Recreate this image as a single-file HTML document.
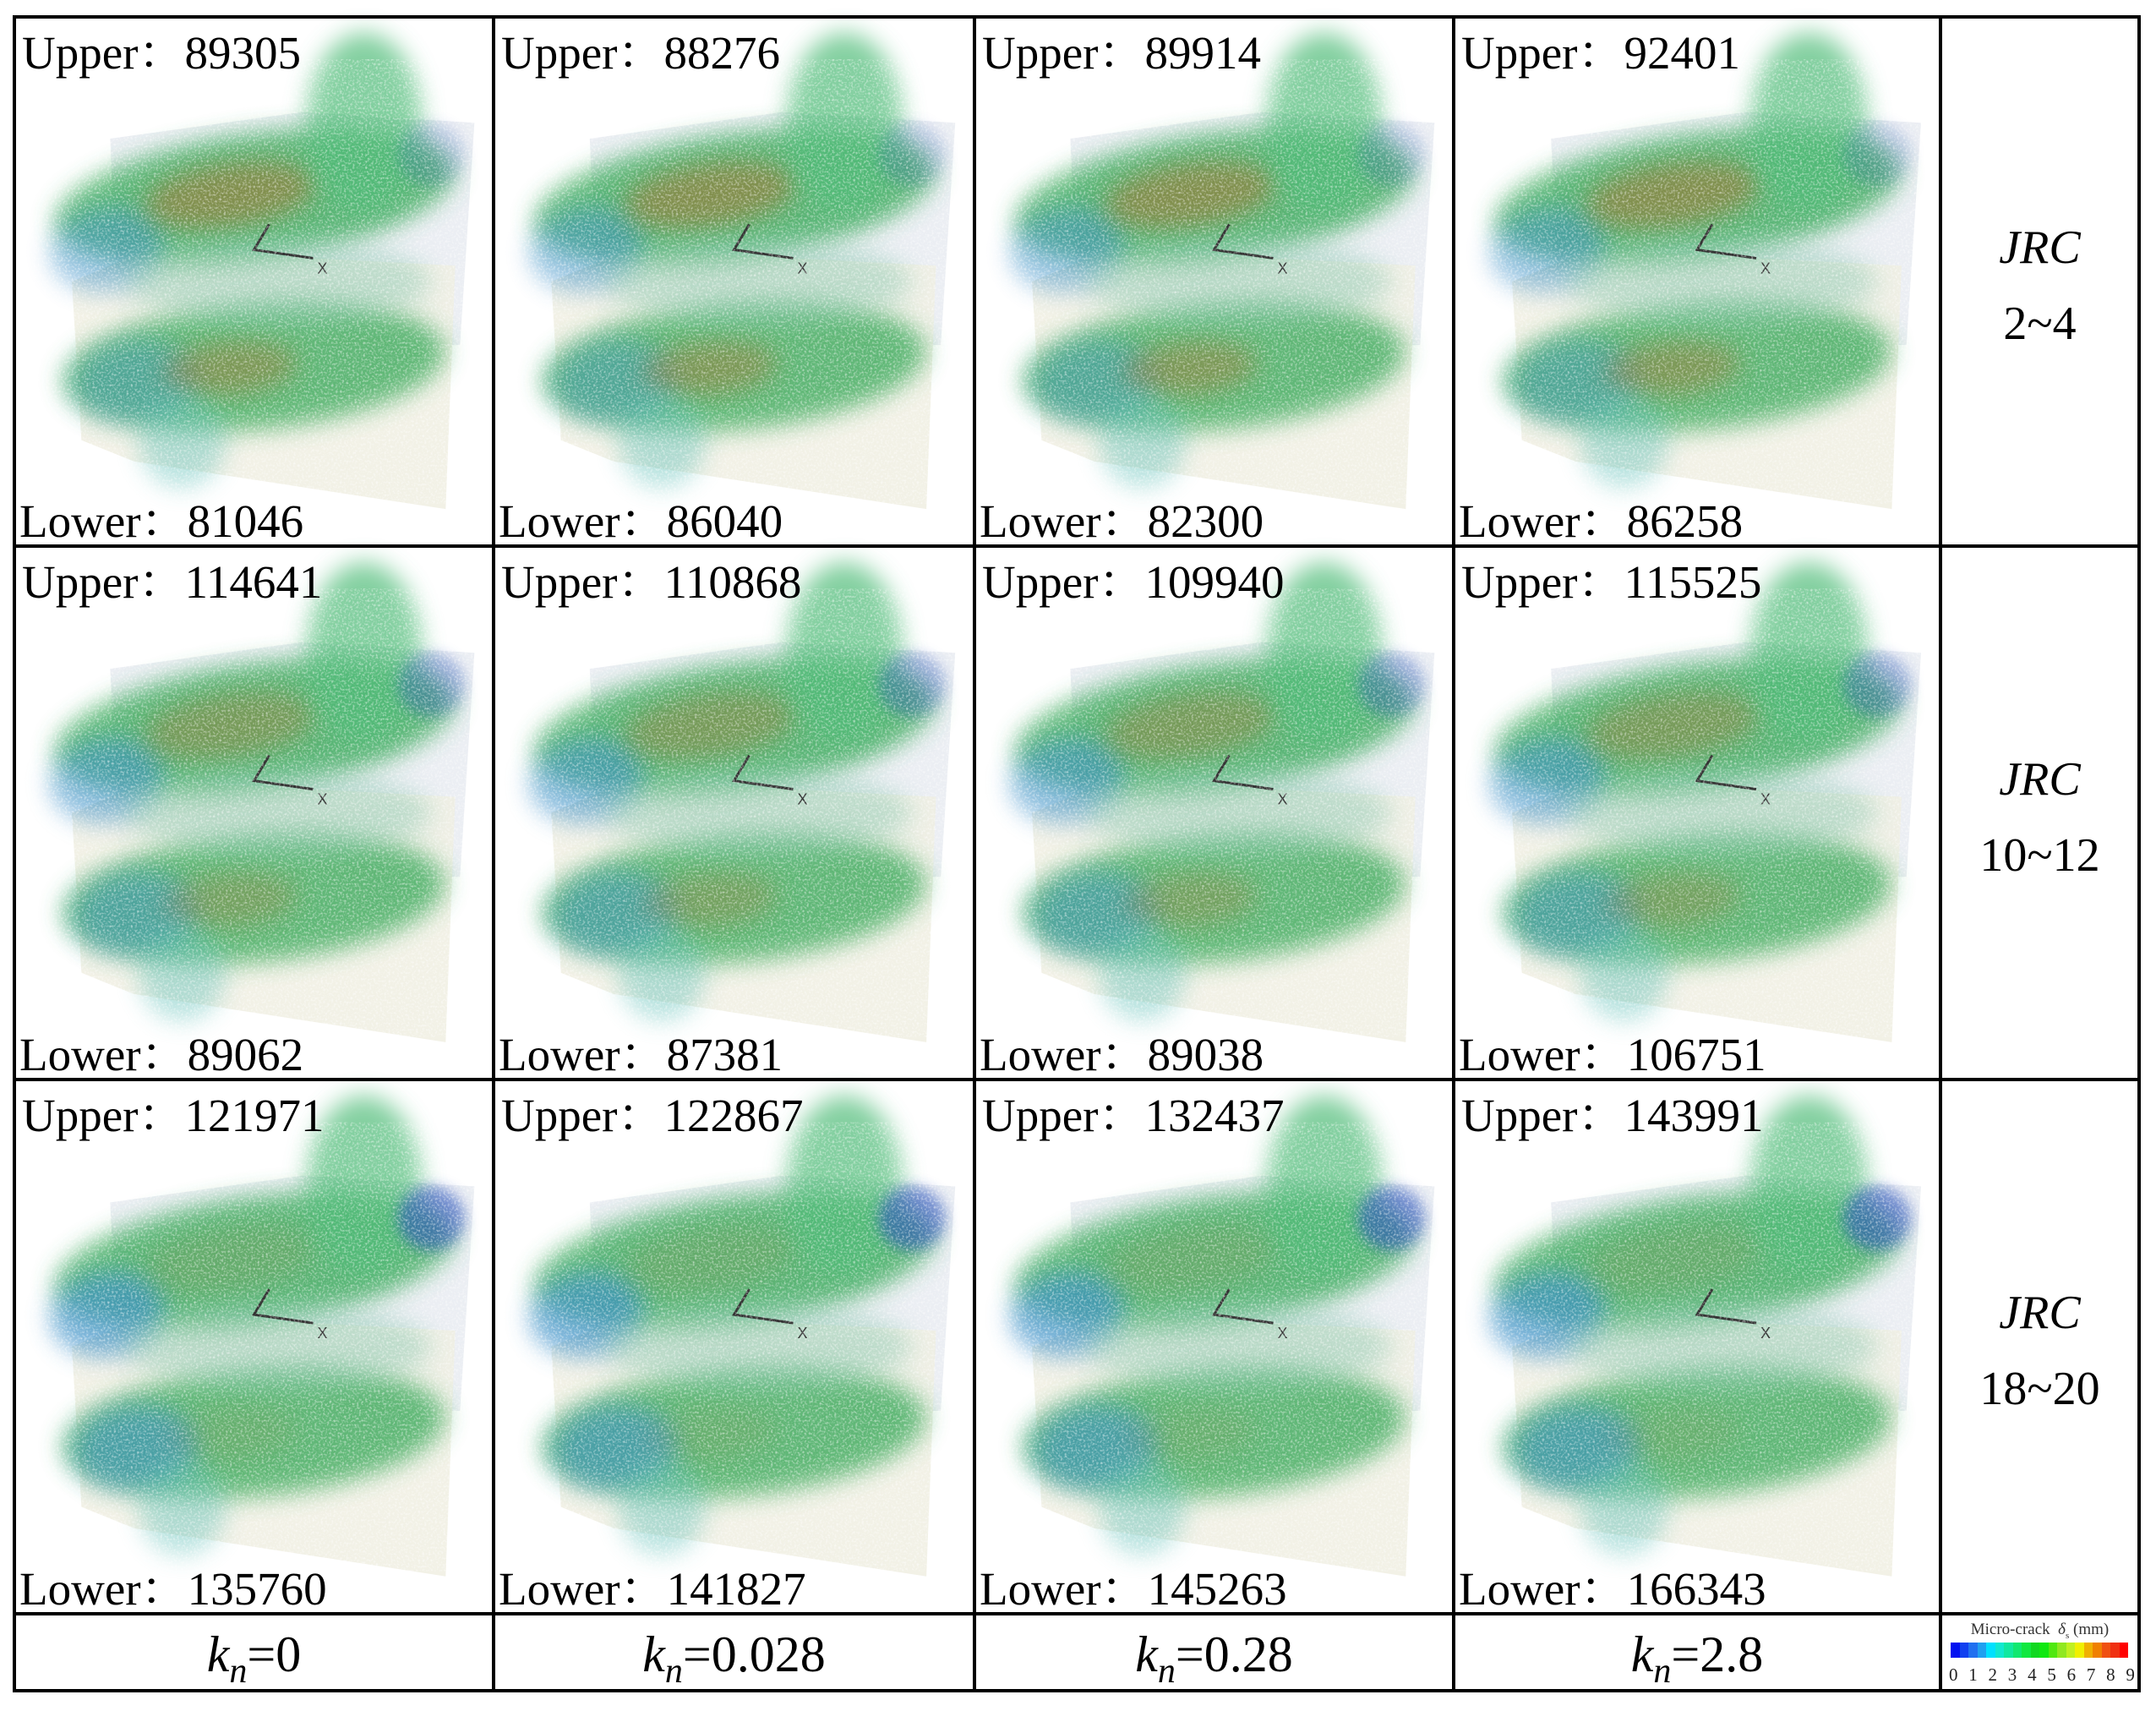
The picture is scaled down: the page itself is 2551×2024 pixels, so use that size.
<!DOCTYPE html>
<html><head><meta charset="utf-8">
<style>
html,body{margin:0;padding:0;background:#fff;}
#root{position:relative;width:2551px;height:2024px;overflow:hidden;font-family:"Liberation Serif","Times New Roman",Tinos,"DejaVu Serif",serif;color:#000;}
.line{position:absolute;background:#000;}
.lbl{position:absolute;font-family:"Liberation Serif","Times New Roman",Tinos,"DejaVu Serif","Noto Serif CJK SC",serif;font-size:55px;white-space:nowrap;line-height:1;}
.side{position:absolute;font-family:"Liberation Serif","Times New Roman",Tinos,"DejaVu Serif",serif;font-size:56px;text-align:center;line-height:1;}
.cj{font-family:"Noto Serif CJK SC","Noto Sans CJK SC",serif;}
</style></head>
<body>
<div id="root">
<svg id="art" width="2551" height="2024" style="position:absolute;left:0;top:0">
<defs>
<filter id="bl" x="-30%" y="-30%" width="160%" height="160%"><feGaussianBlur stdDeviation="14"/></filter>
<filter id="bl2" x="-30%" y="-30%" width="160%" height="160%"><feGaussianBlur stdDeviation="8"/></filter>
<filter id="noise" x="0" y="0" width="100%" height="100%">
<feTurbulence type="fractalNoise" baseFrequency="0.4" numOctaves="2" seed="3"/>
<feColorMatrix values="0 0 0 0 1  0 0 0 0 1  0 0 0 0 1  0 0 0 -2.6 1.4"/>
</filter>
</defs>
</svg>
</div>
<script>
const upperCounts=[[89305,88276,89914,92401],[114641,110868,109940,115525],[121971,122867,132437,143991]];
const lowerCounts=[[81046,86040,82300,86258],[89062,87381,89038,106751],[135760,141827,145263,166343]];
const rowLabels=[["JRC","2~4"],["JRC","10~12"],["JRC","18~20"]];
const knValues=["0","0.028","0.28","2.8"];
const legendTicks=["0","1","2","3","4","5","6","7","8","9"];

const root=document.getElementById('root');
const art=document.getElementById('art');
const NS='http://www.w3.org/2000/svg';
const colX=[17,584,1153,1720,2296,2531];
const rowY=[20,646,1277,1909,2000];

function mk(tag,attrs,parent){const e=document.createElementNS(NS,tag);for(const k in attrs)e.setAttribute(k,attrs[k]);parent.appendChild(e);return e;}

for(let r=0;r<3;r++){for(let c=0;c<4;c++){
  const x0=colX[c],y0=rowY[r],w=colX[c+1]-x0,h=rowY[r+1]-y0;
  const g=mk('g',{},art);
  
  
  const X=f=>x0+f*w, Y=f=>y0+f*h;
  mk('polygon',{points:`${X(0.2)},${Y(0.23)} ${X(0.6)},${Y(0.18)} ${X(0.96)},${Y(0.2)} ${X(0.93)},${Y(0.62)} ${X(0.22)},${Y(0.62)}`,fill:'#e6eaf0',opacity:0.8},g);
  mk('polygon',{points:`${X(0.12)},${Y(0.5)} ${X(0.28)},${Y(0.44)} ${X(0.92)},${Y(0.47)} ${X(0.9)},${Y(0.93)} ${X(0.25)},${Y(0.84)} ${X(0.14)},${Y(0.8)}`,fill:'#f0eee2',opacity:0.85},g);
  const blue=r===2?0.9:(r===1?0.55:0.3);
  const red=r===0?0.5:(r===1?0.35:0.12);
  const g1=mk('g',{transform:`rotate(-8 ${X(0.5)} ${Y(0.33)})`},g);
  mk('ellipse',{cx:X(0.5),cy:Y(0.34),rx:w*0.42,ry:h*0.12,fill:'#38a858',opacity:0.8,filter:'url(#bl)'},g1);
  mk('ellipse',{cx:X(0.18),cy:Y(0.4),rx:w*0.12,ry:h*0.08,fill:'#3a8fc8',opacity:0.4+blue*0.3,filter:'url(#bl)'},g1);
  mk('ellipse',{cx:X(0.45),cy:Y(0.33),rx:w*0.18,ry:h*0.06,fill:'#a86a28',opacity:red,filter:'url(#bl)'},g1);
  mk('ellipse',{cx:X(0.73),cy:Y(0.2),rx:w*0.12,ry:h*0.17,fill:'#50bc78',opacity:0.7,filter:'url(#bl)'},g);
  mk('ellipse',{cx:X(0.87),cy:Y(0.26),rx:w*0.07,ry:h*0.06,fill:'#2a50c0',opacity:blue*0.65,filter:'url(#bl2)'},g);
  const g2=mk('g',{transform:`rotate(-5 ${X(0.5)} ${Y(0.66)})`},g);
  mk('ellipse',{cx:X(0.5),cy:Y(0.66),rx:w*0.4,ry:h*0.12,fill:'#38a858',opacity:0.78,filter:'url(#bl)'},g2);
  mk('ellipse',{cx:X(0.25),cy:Y(0.67),rx:w*0.13,ry:h*0.08,fill:'#3a8fc8',opacity:0.3+blue*0.3,filter:'url(#bl)'},g2);
  mk('ellipse',{cx:X(0.45),cy:Y(0.66),rx:w*0.14,ry:h*0.05,fill:'#a86a28',opacity:red*0.8,filter:'url(#bl)'},g2);
  mk('ellipse',{cx:X(0.55),cy:Y(0.5),rx:w*0.32,ry:h*0.08,fill:'#8cc8b0',opacity:0.5,filter:'url(#bl)'},g);
  mk('ellipse',{cx:X(0.35),cy:Y(0.8),rx:w*0.09,ry:h*0.09,fill:'#60c0b8',opacity:0.45,filter:'url(#bl)'},g);
  const ax=X(0.5),ay=Y(0.44);
  mk('polyline',{points:`${ax+18},${ay-30} ${ax},${ay} ${ax+70},${ay+10}`,fill:'none',stroke:'#333',"stroke-width":3},g);
  const t=mk('text',{x:ax+75,y:ay+28,"font-size":18,fill:'#333',"font-family":'Liberation Sans, sans-serif'},g);t.textContent='X';
  mk('rect',{x:x0,y:y0+h*0.08,width:w,height:h*0.84,filter:'url(#noise)',opacity:0.55},g);
}}

for(const x of colX){const d=document.createElement('div');d.className='line';d.style.cssText=`left:${x-2}px;top:${rowY[0]-2}px;width:4px;height:${rowY[4]-rowY[0]+4}px`;


root.appendChild(d);}
for(const y of rowY){const d=document.createElement('div');d.className='line';d.style.cssText=`left:${colX[0]-2}px;top:${y-2}px;width:${colX[5]-colX[0]+4}px;height:4px`;


root.appendChild(d);}

for(let r=0;r<3;r++){for(let c=0;c<4;c++){
  const x0=colX[c],y0=rowY[r];
  const u=document.createElement('div');u.className='lbl';
  
  
  u.style.left=(x0+9)+'px';u.style.top=(y0+10)+'px';
  u.innerHTML='Upper<span class="cj">：</span>'+upperCounts[r][c];root.appendChild(u);
  const l=document.createElement('div');l.className='lbl';
  
  
  l.style.left=(x0+6)+'px';l.style.top=(rowY[r+1]-62)+'px';
  l.innerHTML='Lower<span class="cj">：</span>'+lowerCounts[r][c];root.appendChild(l);
}
  const s=document.createElement('div');s.className='side';
  
  
  s.style.left=colX[4]+'px';s.style.width=(colX[5]-colX[4])+'px';
  s.style.top=((rowY[r]+rowY[r+1])/2-68)+'px';
  s.innerHTML='<i>'+rowLabels[r][0]+'</i><br><span style="display:inline-block;margin-top:34px">'+rowLabels[r][1]+'</span>';
  root.appendChild(s);
}
for(let c=0;c<4;c++){
  const k=document.createElement('div');k.className='side';
  
  
  k.style.left=colX[c]+'px';k.style.width=(colX[c+1]-colX[c])+'px';
  k.style.top=(rowY[3]+18)+'px';k.style.fontSize='60px';
  k.innerHTML='<i>k<sub style="font-size:42px">n</sub></i>='+knValues[c];
  root.appendChild(k);
}
const lg=document.createElement('div');


lg.style.cssText='position:absolute;left:2296px;top:1909px;width:235px;height:91px;';
const cols=['#0010f0','#1040f0','#2070f0','#20a0f0','#00e0ff','#10e8d0','#10e8a0','#10e870','#10e840','#10d820','#10e810','#50e810','#90e820','#c0f020','#f0f000','#f0b000','#f08000','#f05010','#f03010','#ff0000'];
let bar='';for(const c of cols)bar+=`<div style="flex:1;background:${c}"></div>`;
let ticks='';for(const t of legendTicks)ticks+=`<span>${t}</span>`;
lg.innerHTML=`<div style="position:absolute;left:0;width:235px;top:8px;text-align:center;font-size:19px;color:#333">Micro-crack &nbsp;<i>δ</i><sub style="font-size:11px">s</sub> (mm)</div>
<div style="position:absolute;left:12px;top:34px;width:210px;height:18px;display:flex">${bar}</div>
<div style="position:absolute;left:10px;top:60px;width:220px;display:flex;justify-content:space-between;font-size:21px;color:#222">${ticks}</div>`;
root.appendChild(lg);
</script>
</body></html>
